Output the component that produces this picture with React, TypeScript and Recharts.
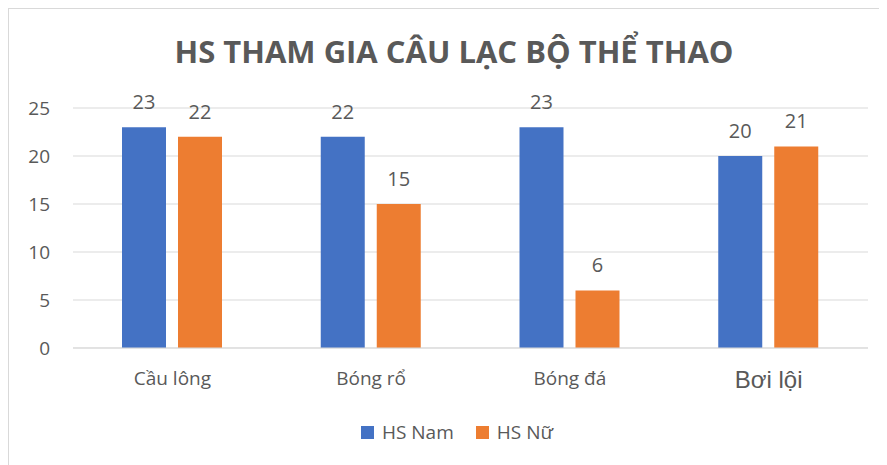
import React from "react";
import {
  BarChart,
  Bar,
  XAxis,
  YAxis,
  CartesianGrid,
  Legend,
  LabelList,
} from "recharts";

const categories = ["Cầu lông", "Bóng rổ", "Bóng đá", "Bơi lội"];
const hsNam = [23, 22, 23, 20];
const hsNu = [22, 15, 6, 21];
const yTicks = [0, 5, 10, 15, 20, 25];

const TEXT = "#595959";
const GRID = "#d9d9d9";
const FONT = "'Open Sans', 'Noto Sans', sans-serif";

const data = categories.map((name, i) => ({
  name,
  nam: hsNam[i],
  nu: hsNu[i],
}));

// the last category label is set in a different face in the source
function CategoryTick(props: any) {
  const { x, y, payload } = props;
  const odd = payload.value === "Bơi lội";
  return (
    <text
      x={x}
      y={y}
      dy={odd ? "0.71em" : "0.74em"}
      textAnchor="middle"
      fill={TEXT}
      fontSize={odd ? 24 : 19}
      fontFamily={odd ? "'Liberation Sans', Arial, sans-serif" : FONT}
    >
      {payload.value}
    </text>
  );
}

function LegendContent(props: any) {
  const { payload } = props;
  return (
    <div
      style={{
        height: 30,
        display: "flex",
        alignItems: "center",
        justifyContent: "center",
        paddingLeft: 37,
        fontFamily: FONT,
        fontSize: 19,
        color: TEXT,
      }}
    >
      {payload.map((p: any, i: number) => (
        <span
          key={p.value}
          style={{
            display: "flex",
            alignItems: "center",
            marginLeft: i === 0 ? 0 : 22,
          }}
        >
          <span
            style={{
              width: 13,
              height: 13,
              background: p.color,
              marginRight: 8,
              display: "inline-block",
            }}
          />
          {p.value}
        </span>
      ))}
    </div>
  );
}

export default function App() {
  return (
    <div
      style={{
        position: "relative",
        width: 879,
        height: 457,
        boxSizing: "border-box",
        borderLeft: `1px solid ${GRID}`,
        borderTop: `1px solid ${GRID}`,
        background: "#fff",
      }}
    >
      <div
        style={{
          position: "absolute",
          left: 0,
          top: 22,
          width: 890,
          textAlign: "center",
          fontFamily: FONT,
          fontWeight: 700,
          fontSize: 31,
          color: TEXT,
          lineHeight: "40px",
          whiteSpace: "nowrap",
        }}
      >
        HS THAM GIA CÂU LẠC BỘ THỂ THAO
      </div>
      <BarChart
        width={878}
        height={456}
        data={data}
        margin={{ top: 99, right: 19, left: 0, bottom: 47 }}
        barSize={44}
        barGap={12}
      >
        <CartesianGrid vertical={false} stroke={GRID} />
        <XAxis
          dataKey="name"
          height={40}
          tickSize={0}
          tickMargin={23}
          axisLine={{ stroke: GRID }}
          tick={<CategoryTick />}
        />
        <YAxis
          width={64}
          domain={[0, 25]}
          ticks={yTicks}
          tickSize={0}
          tickMargin={23}
          axisLine={false}
          tick={{ fill: TEXT, fontSize: 19, fontFamily: FONT }}
        />
        <Legend
          verticalAlign="bottom"
          content={<LegendContent />}
          wrapperStyle={{ bottom: 18 }}
        />
        <Bar dataKey="nam" name="HS Nam" fill="#4472C4" isAnimationActive={false}>
          <LabelList
            dataKey="nam"
            position="top"
            offset={18}
            fill={TEXT}
            fontSize={20}
            fontFamily={FONT}
          />
        </Bar>
        <Bar dataKey="nu" name="HS Nữ" fill="#ED7D31" isAnimationActive={false}>
          <LabelList
            dataKey="nu"
            position="top"
            offset={18}
            fill={TEXT}
            fontSize={20}
            fontFamily={FONT}
          />
        </Bar>
      </BarChart>
    </div>
  );
}
